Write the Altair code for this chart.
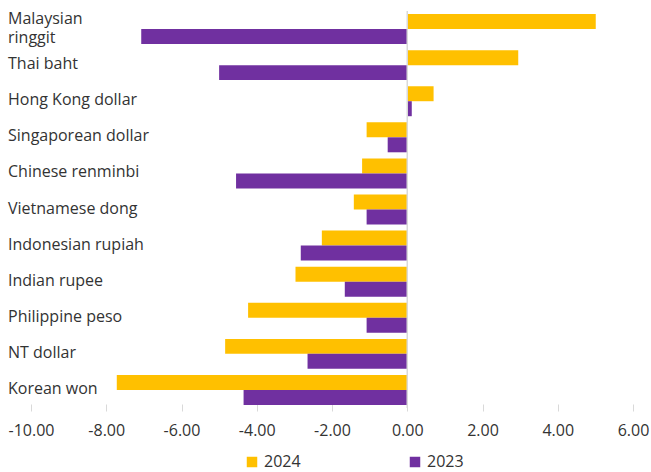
import altair as alt
import pandas as pd

currencies = ["Malaysian ringgit", "Thai baht", "Hong Kong dollar", "Singaporean dollar",
              "Chinese renminbi", "Vietnamese dong", "Indonesian rupiah", "Indian rupee",
              "Philippine peso", "NT dollar", "Korean won"]
labels = ["Malaysian\nringgit", "Thai baht", "Hong Kong dollar", "Singaporean dollar",
          "Chinese renminbi", "Vietnamese dong", "Indonesian rupiah", "Indian rupee",
          "Philippine peso", "NT dollar", "Korean won"]
values_2024 = [5.01, 2.95, 0.70, -1.08, -1.20, -1.42, -2.27, -2.97, -4.23, -4.84, -7.72]
values_2023 = [-7.07, -5.00, 0.12, -0.52, -4.55, -1.08, -2.83, -1.66, -1.08, -2.65, -4.35]
series = ["2024", "2023"]
colors = ["#FFC000", "#7030A0"]
ticks = [-10, -8, -6, -4, -2, 0, 2, 4, 6]

rows = []
for c, a, b in zip(currencies, values_2024, values_2023):
    rows.append({"currency": c, "series": "2024", "value": a})
    rows.append({"currency": c, "series": "2023", "value": b})
df = pd.DataFrame(rows)
lab_df = pd.DataFrame({"currency": currencies, "label": labels})
lab_df["multi"] = lab_df["label"].str.contains("\n")

FONT = "Open Sans"
TXT = "#333333"

yscale = alt.Scale(domain=currencies, paddingInner=0.17, paddingOuter=0.085)

bars = alt.Chart(df).mark_bar().encode(
    x=alt.X("value:Q", scale=alt.Scale(domain=[-10, 6], nice=False),
            axis=alt.Axis(values=ticks, title=None, grid=False, domain=False,
                          labelExpr="(datum.value < 0 ? '-' : '') + format(abs(datum.value), '.2f')",
                          labelFlush=False, labelOverlap=False,
                          tickColor="#d9d9d9", tickSize=7, tickWidth=1, offset=-4,
                          labelFont=FONT, labelFontSize=16, labelColor=TXT, labelPadding=11)),
    y=alt.Y("currency:N", scale=yscale, axis=None, sort=currencies),
    yOffset=alt.YOffset("series:N", scale=alt.Scale(domain=series, paddingInner=0, paddingOuter=0),
                        sort=series),
    color=alt.Color("series:N", scale=alt.Scale(domain=series, range=colors),
                    legend=alt.Legend(title=None, orient="none", direction="horizontal",
                                      legendX=213, legendY=443, symbolType="square",
                                      symbolSize=110, symbolStrokeWidth=0, symbolOpacity=1,
                                      labelFont=FONT, labelFontSize=16, labelColor=TXT,
                                      columnPadding=106, labelOffset=4)),
)

zero = alt.Chart(pd.DataFrame({"z": [0]})).mark_rule(color="#d9d9d9", strokeWidth=1.5).encode(
    x="z:Q"
)

single = alt.Chart(lab_df).transform_filter("!datum.multi").mark_text(
    align="left", baseline="middle", font=FONT, fontSize=16, color=TXT, dy=-1
).encode(
    y=alt.Y("currency:N", scale=yscale, sort=currencies),
    x=alt.value(-23),
    text="label:N",
)

multi = alt.Chart(lab_df).transform_filter("datum.multi").mark_text(
    align="left", baseline="middle", font=FONT, fontSize=16, color=TXT,
    lineBreak="\n", lineHeight=19, dy=-10.5
).encode(
    y=alt.Y("currency:N", scale=yscale, sort=currencies),
    x=alt.value(-23),
    text="label:N",
)

chart = alt.layer(bars, zero, single, multi).properties(
    width=602, height=397,
    padding={"left": 31, "top": 11, "right": 18, "bottom": 64},
    autosize=alt.AutoSizeParams(type="none"),
).configure_view(stroke=None)

chart.save("out.html", embed_options={"renderer": "svg", "actions": False})
